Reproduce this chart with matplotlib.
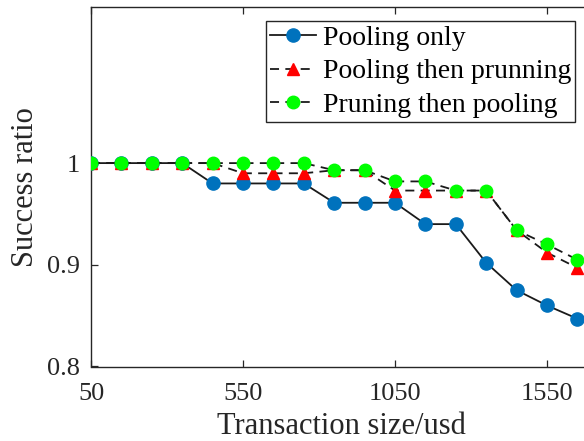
import matplotlib
matplotlib.use("Agg")
import matplotlib.pyplot as plt

# Transaction sizes (usd) and success ratios for the three strategies
sizes = [50, 150, 250, 350, 450, 550, 650, 750, 850, 950,
         1050, 1150, 1250, 1350, 1450, 1550, 1650]
pooling_only = [1.0, 1.0, 1.0, 1.0, 0.980, 0.980, 0.980, 0.980, 0.961, 0.961,
                0.961, 0.940, 0.940, 0.902, 0.875, 0.860, 0.847]
pooling_then_pruning = [1.0, 1.0, 1.0, 1.0, 1.0, 0.990, 0.990, 0.990, 0.993, 0.993,
                        0.973, 0.973, 0.973, 0.973, 0.934, 0.912, 0.897]
pruning_then_pooling = [1.0, 1.0, 1.0, 1.0, 1.0, 1.0, 1.0, 1.0, 0.993, 0.993,
                        0.982, 0.982, 0.973, 0.973, 0.934, 0.920, 0.905]

x_ticks = [50, 550, 1050, 1550]
y_ticks = [0.8, 0.9, 1.0]
y_ticklabels = ["0.8", "0.9", "1"]

plt.rcParams["font.family"] = ["Liberation Serif", "DejaVu Serif"]

fig = plt.figure(figsize=(5.84, 4.41), dpi=100)
W, H = 584, 441
left_px, bottom_px, top_px = 91, 74.5, 434
ax = fig.add_axes([left_px / W, bottom_px / H, 501.6 / W, (top_px - bottom_px) / H])

ax.plot(sizes, pooling_only, color="#1a1a1a", linestyle="-", linewidth=1.3,
        marker="o", markersize=9.5, markerfacecolor="#0072BD",
        markeredgecolor="#0072BD", label="Pooling only", zorder=3)
ax.plot(sizes, pooling_then_pruning, color="#1a1a1a", linestyle=(0, (5, 3.5)),
        linewidth=1.3, marker="^", markersize=9, markerfacecolor="#FF0000",
        markeredgecolor="#FF0000", label="Pooling then prunning", zorder=4)
ax.plot(sizes, pruning_then_pooling, color="#1a1a1a", linestyle=(0, (5, 3.5)),
        linewidth=1.3, marker="o", markersize=9, markerfacecolor="#00FF00",
        markeredgecolor="#00FF00", label="Pruning then pooling", zorder=5)

ax.set_xlim(50, 1700)
ax.set_ylim(0.8, 1.1535)
ax.set_xticks(x_ticks)
ax.set_xticklabels([str(v) for v in x_ticks])
ax.set_yticks(y_ticks)
ax.set_yticklabels(y_ticklabels)

ax.tick_params(axis="both", direction="in", length=5, width=0.9,
               labelsize=19, colors="#262626", top=True, right=True)
ax.tick_params(axis="x", pad=12)
ax.tick_params(axis="y", pad=8)
for s in ax.spines.values():
    s.set_color("#262626")
    s.set_linewidth(1.0)

ax.set_xlabel("Transaction size/usd", fontsize=22, color="#262626", labelpad=5)
ax.set_ylabel("Success ratio", fontsize=22, color="#262626", labelpad=5)

leg = ax.legend(loc="upper left", bbox_to_anchor=(266 / W, 1 - 21 / H),
                bbox_transform=fig.transFigure, borderaxespad=0,
                fontsize=20, frameon=True, fancybox=False, framealpha=1,
                edgecolor="#262626", handlelength=1.65, handletextpad=0.25,
                borderpad=0.15, labelspacing=0.3)
leg.get_frame().set_linewidth(1.0)

fig.savefig("out.png", dpi=100)
